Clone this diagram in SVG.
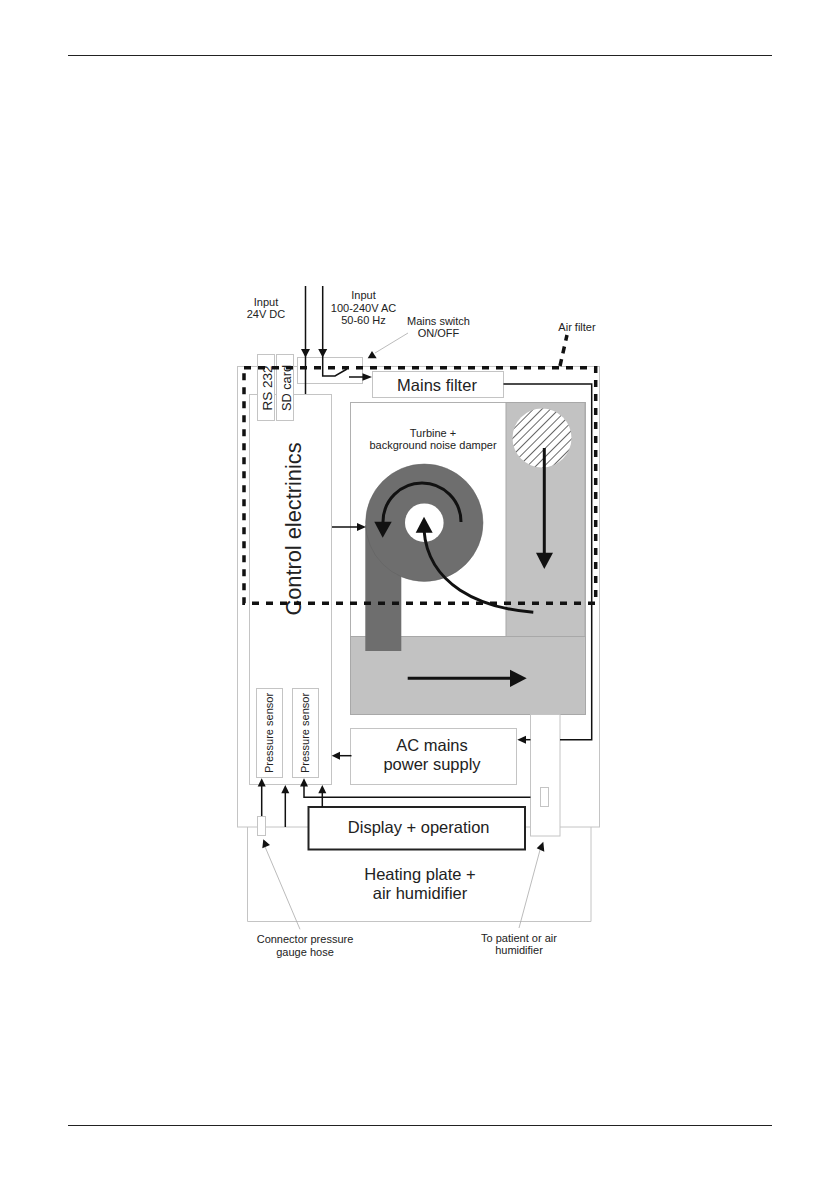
<svg xmlns="http://www.w3.org/2000/svg" width="840" height="1190" viewBox="0 0 840 1190">
<style>
text{font-family:"Liberation Sans",Arial,sans-serif;fill:#222;text-anchor:middle}
.b{fill:#fff;stroke:#c4c4c4;stroke-width:1}
.g{fill:#c2c2c2;stroke:#a8a8a8;stroke-width:1}
.l{fill:none;stroke:#111;stroke-width:1.500}
.t{fill:none;stroke:#111;stroke-width:3}
.th{fill:none;stroke:#aaa;stroke-width:.8}
.h{fill:#111}
.s{font-size:11px}
.m{font-size:16.500px}
</style>
<defs>
<pattern id="hatch" width="6" height="6" patternUnits="userSpaceOnUse" patternTransform="rotate(45)"><rect width="6" height="6" fill="#fff"/><rect width=".8" height="6" fill="#444"/></pattern>
</defs>
<rect width="840" height="1190" fill="#fff"/>
<g id="page-rules"><path d="M68 55.500H772M68 1125.500H772" stroke="#222" stroke-width="1" fill="none"/></g>
<g id="heating-plate"><path class="b" d="M247.500 827V921.500H591V827"/><text class="m" x="420" y="880">Heating plate +</text><text class="m" x="420" y="898.500">air humidifier</text></g>
<g id="housing"><rect class="b" x="237.500" y="366.500" width="362" height="460.500"/></g>
<g id="control-electronics"><rect class="b" x="249.500" y="394.500" width="82" height="390"/><text transform="translate(300.500 529) rotate(-90)" font-size="21.800">Control electrinics</text></g>
<g id="rs232"><rect class="b" x="257.500" y="354.500" width="17" height="66"/><text transform="translate(271.500 388) rotate(-90)" font-size="13.500">RS 232</text></g>
<g id="sdcard"><rect class="b" x="276.500" y="354.500" width="17" height="66"/><text transform="translate(290.500 388) rotate(-90)" font-size="12.800">SD card</text></g>
<g id="pressure-sensor-1"><rect class="b" x="256.500" y="688.500" width="26" height="89"/><text class="s" transform="translate(273 733) rotate(-90)">Pressure sensor</text></g>
<g id="pressure-sensor-2"><rect class="b" x="292.500" y="688.500" width="26" height="89"/><text class="s" transform="translate(309 733) rotate(-90)">Pressure sensor</text></g>
<g id="mains-switch"><rect class="b" x="297.500" y="357.500" width="65" height="26"/></g>
<g id="mains-filter"><rect class="b" x="372.500" y="371.500" width="131" height="26"/><text x="437" y="390.500" font-size="16.500">Mains filter</text></g>
<g id="turbine-chamber"><rect fill="#fff" stroke="#b0b0b0" x="350.500" y="402.500" width="235" height="234"/>
<rect class="g" x="506" y="402.500" width="79" height="234"/>
<rect class="g" x="350.500" y="636.500" width="235" height="78"/>
<circle cx="542" cy="438" r="29.500" fill="url(#hatch)"/>
<rect fill="#6e6e6e" x="365.300" y="525" width="36" height="126"/>
<circle cx="424.300" cy="522.700" r="58.700" fill="#6e6e6e" stroke="#606060" stroke-width=".5"/>
<circle cx="424.300" cy="522.700" r="19.300" fill="#fff"/>
<text class="s" x="433" y="436.700">Turbine +</text><text class="s" x="433" y="449">background noise damper</text>
</g>
<g id="ac-power-supply"><rect class="b" x="350.500" y="728.500" width="166" height="56"/><text class="m" x="432" y="750.700">AC mains</text><text class="m" x="432" y="770">power supply</text></g>
<g id="outlet"><rect class="b" x="530.500" y="714.500" width="29.500" height="121.500"/><rect class="b" x="540.500" y="787.500" width="8" height="19"/></g>
<g id="connector"><rect class="b" x="257.500" y="816.500" width="8" height="19"/></g>
<g id="display"><rect fill="#fff" stroke="#222" stroke-width="2" x="308.500" y="807" width="216.500" height="42.500"/><text class="m" x="418.700" y="833.300">Display + operation</text></g>
<g id="connectors">
<path class="l" d="M305.500 286V394M322.700 286V376H335L347 369"/>
<path class="h" d="M301 349H310L305.500 357.500ZM318.200 349H327.200L322.700 357.500Z"/>
<path class="l" d="M349 377H364"/><path class="h" d="M372 377L362.500 373.300V380.700Z"/>
<path class="l" d="M503.500 384H591.700V739.700H560"/>
<path class="l" d="M530.500 739.700H525"/><path class="h" d="M517.300 739.700L526 735.700V743.700Z"/>
<path class="l" d="M351.500 755.700H339"/><path class="h" d="M331.700 755.700L340 751.700V759.700Z"/>
<path class="l" d="M332 527H360"/><path class="h" d="M366 527L357 523V531Z"/>
<path class="l" d="M261.700 816V785"/><path class="h" d="M261.700 778.300L257.700 786.500H265.700Z"/>
<path class="l" d="M285.300 827V792"/><path class="h" d="M285.300 785L281.300 793.300H289.300Z"/>
<path class="l" d="M530.500 797.300H304V785"/><path class="h" d="M304 778.300L300 786.500H308Z"/>
<path class="l" d="M322.300 807V792"/><path class="h" d="M322.300 785L318.300 793.300H326.300Z"/>
<path class="t" d="M544.300 448V555"/><path class="h" d="M544.300 569L536 552.700H553Z"/>
<path class="t" d="M461 522A38.500 38.500 0 1 0 383 522"/><path class="h" d="M382.700 537.700L374.300 521.700H391.700Z"/>
<path class="t" d="M533.300 612.300C480 608 428 585 424 530"/><path class="h" d="M424 516.700L415.700 532.700H432.700Z"/>
<path class="t" d="M407.700 678.300H512"/><path class="h" d="M526.700 678.300L510 669.700V687Z"/>
<path class="th" d="M408 333L375 353M300 929.300L265 846.700M519 928L540 850"/>
<path class="h" d="M367.700 358.300H376.700L372 351Z"/>
<path class="h" d="M263.300 839.300L270 845L262.300 848.300ZM543.300 841.700L544.300 851.700L536.700 848.300Z"/>
<path fill="none" stroke="#111" stroke-width="3.500" stroke-dasharray="7 7" d="M244 367.700H595.700V603.300H244V367.700"/>
<path fill="none" stroke="#111" stroke-width="3.500" stroke-dasharray="7 6" d="M560 366L567 335"/>
</g>
<g id="labels">
<text class="s" x="266" y="306">Input</text><text class="s" x="266" y="318">24V DC</text>
<text class="s" x="363.500" y="299.300">Input</text><text class="s" x="363.500" y="311.700">100-240V AC</text><text class="s" x="363.500" y="323.500">50-60 Hz</text>
<text class="s" x="438.500" y="325">Mains switch</text><text class="s" x="438.500" y="337">ON/OFF</text>
<text class="s" x="577" y="331">Air filter</text>
<text class="s" x="305" y="943.300">Connector pressure</text><text class="s" x="305" y="955.700">gauge hose</text>
<text class="s" x="519" y="941.700">To patient or air</text><text class="s" x="519" y="954">humidifier</text>
</g>
</svg>
